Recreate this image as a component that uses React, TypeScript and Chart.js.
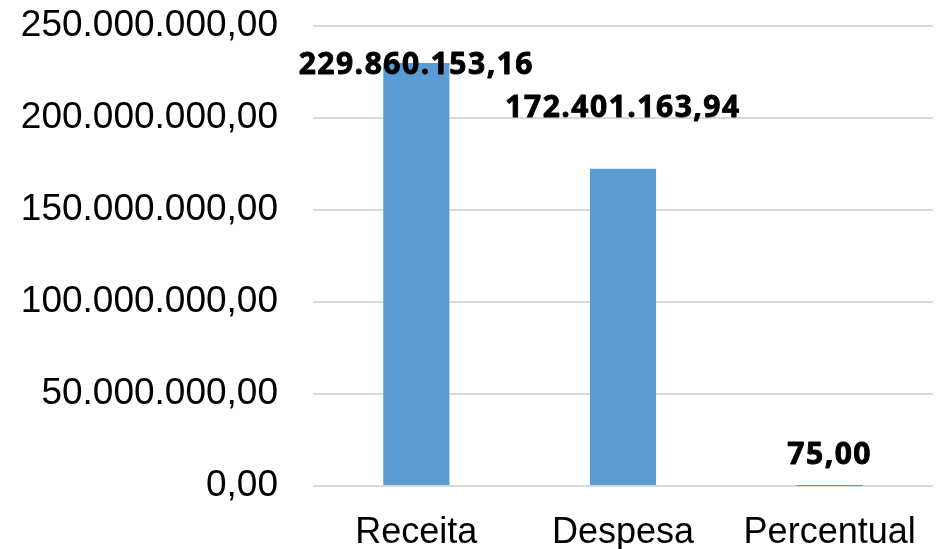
import React, { useEffect, useRef } from 'react';
import { Chart, registerables } from 'chart.js';

Chart.register(...registerables);

const categories = ['Receita', 'Despesa', 'Percentual'];
const values = [229860153.16, 172401163.94, 75.0];
const yTicks = [0, 50000000, 100000000, 150000000, 200000000, 250000000];
// how far each value label is lifted above the end of its bar (px)
const labelLift = [0, 62.5, 32.5];

// pt-BR number format: 229.860.153,16
function fmt(v: number): string {
  const [int, dec] = v.toFixed(2).split('.');
  return int.replace(/\B(?=(\d{3})+(?!\d))/g, '.') + ',' + dec;
}

const valueLabels = {
  id: 'valueLabels',
  afterDatasetsDraw(chart: any) {
    const ctx = chart.ctx;
    const meta = chart.getDatasetMeta(0);
    ctx.save();
    ctx.font = 'bold 30px "Open Sans"';
    (ctx as any).letterSpacing = '1.5px';
    ctx.fillStyle = '#000';
    ctx.strokeStyle = '#000';
    ctx.lineWidth = 0.9;
    ctx.lineJoin = 'round';
    ctx.textAlign = 'center';
    ctx.textBaseline = 'alphabetic';
    meta.data.forEach((bar: any, i: number) => {
      const y = bar.y - labelLift[i] + 10.7;
      ctx.fillText(fmt(values[i]), bar.x, y);
      ctx.strokeText(fmt(values[i]), bar.x, y);
    });
    ctx.restore();
  },
};

const App: React.FC = () => {
  const canvasRef = useRef<HTMLCanvasElement>(null);
  const chartRef = useRef<Chart | null>(null);

  useEffect(() => {
    if (!canvasRef.current) return;
    if (chartRef.current) chartRef.current.destroy();

    chartRef.current = new Chart(canvasRef.current, {
      type: 'bar',
      data: {
        labels: categories,
        datasets: [
          {
            data: values,
            backgroundColor: '#5b9bd5',
            barPercentage: 0.32,
            categoryPercentage: 1,
          },
        ],
      },
      options: {
        animation: false,
        responsive: true,
        maintainAspectRatio: false,
        layout: { padding: { top: 26, right: 8, left: 0, bottom: 0 } },
        plugins: {
          legend: { display: false },
          tooltip: { enabled: false },
        },
        scales: {
          x: {
            grid: { display: false },
            border: { display: false },
            ticks: {
              color: '#000',
              padding: 17,
              font: { family: '"Liberation Sans", Arial', size: 36 },
            },
            afterFit: (s: any) => {
              s.height = 63;
              s.paddingLeft = 0;
              s.paddingRight = 0;
            },
          },
          y: {
            min: 0,
            max: 250000000,
            grid: { color: '#d9d9d9', lineWidth: 2, drawTicks: false },
            border: { display: false },
            afterBuildTicks: (s: any) => {
              s.ticks = yTicks.map((v) => ({ value: v }));
            },
            ticks: {
              color: '#000',
              padding: 35,
              font: { family: '"Liberation Sans", Arial', size: 37 },
              callback: (v: any) => fmt(Number(v)),
            },
            afterFit: (s: any) => {
              s.width = 313;
              s.paddingTop = 0;
              s.paddingBottom = 0;
            },
          },
        },
      },
      plugins: [valueLabels],
    });

    return () => {
      if (chartRef.current) {
        chartRef.current.destroy();
        chartRef.current = null;
      }
    };
  }, []);

  return (
    <div style={{ position: 'absolute', left: 0, top: 0, width: 941, height: 549, background: '#fff' }}>
      <canvas ref={canvasRef}></canvas>
    </div>
  );
};

export default App;
